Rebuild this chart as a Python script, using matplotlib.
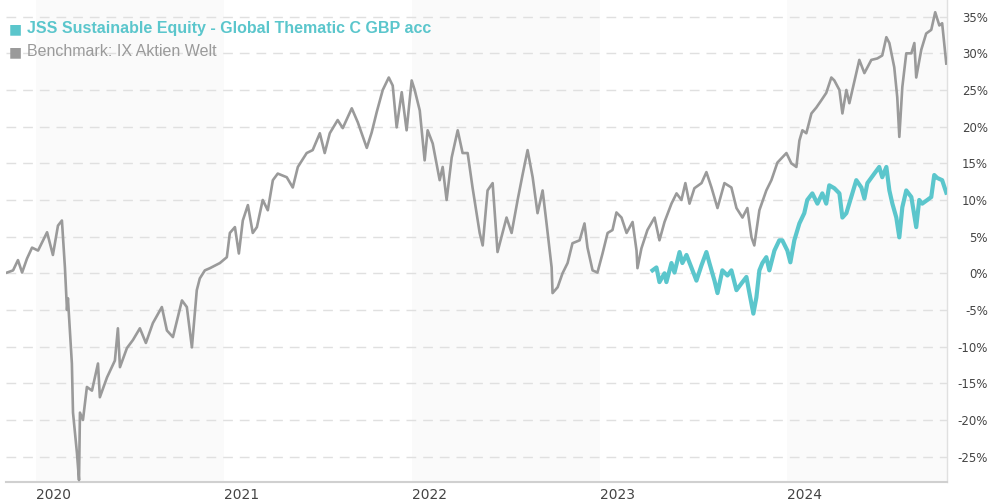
import matplotlib
matplotlib.use("Agg")
import matplotlib.pyplot as plt
from matplotlib.ticker import FixedLocator

# Benchmark: IX Aktien Welt (decimal year, % performance)
bench_t = [2019.846, 2019.878, 2019.904, 2019.926, 2019.952, 2019.979, 2020.011, 2020.059, 2020.090, 2020.117,
           2020.138, 2020.154, 2020.165, 2020.170, 2020.191, 2020.197, 2020.218, 2020.229, 2020.234, 2020.250,
           2020.271, 2020.298, 2020.330, 2020.340, 2020.378, 2020.420, 2020.436, 2020.447, 2020.484, 2020.516,
           2020.553, 2020.585, 2020.622, 2020.670, 2020.697, 2020.729, 2020.777, 2020.803, 2020.830, 2020.856,
           2020.872, 2020.899, 2020.926, 2020.979, 2021.016, 2021.032, 2021.059, 2021.080, 2021.101, 2021.128,
           2021.154, 2021.176, 2021.207, 2021.234, 2021.261, 2021.287, 2021.335, 2021.367, 2021.394, 2021.441,
           2021.473, 2021.511, 2021.537, 2021.564, 2021.606, 2021.633, 2021.681, 2021.713, 2021.761, 2021.787,
           2021.814, 2021.846, 2021.878, 2021.899, 2021.920, 2021.947, 2021.973, 2022.000, 2022.016, 2022.043,
           2022.069, 2022.085, 2022.112, 2022.149, 2022.165, 2022.186, 2022.213, 2022.245, 2022.271, 2022.298,
           2022.324, 2022.362, 2022.378, 2022.404, 2022.431, 2022.457, 2022.505, 2022.532, 2022.564, 2022.590,
           2022.617, 2022.644, 2022.670, 2022.697, 2022.718, 2022.745, 2022.750, 2022.777, 2022.803, 2022.830,
           2022.856, 2022.894, 2022.920, 2022.936, 2022.963, 2022.989, 2023.016, 2023.043, 2023.069, 2023.090,
           2023.117, 2023.144, 2023.176, 2023.197, 2023.202, 2023.223, 2023.255, 2023.293, 2023.319, 2023.346,
           2023.383, 2023.410, 2023.436, 2023.457, 2023.479, 2023.505, 2023.543, 2023.569, 2023.596, 2023.628,
           2023.665, 2023.702, 2023.729, 2023.761, 2023.787, 2023.809, 2023.824, 2023.851, 2023.888, 2023.915,
           2023.947, 2023.973, 2023.995, 2024.021, 2024.048, 2024.064, 2024.080, 2024.101, 2024.128, 2024.154,
           2024.181, 2024.207, 2024.234, 2024.250, 2024.277, 2024.293, 2024.314, 2024.330, 2024.367, 2024.383,
           2024.410, 2024.447, 2024.479, 2024.505, 2024.527, 2024.543, 2024.569, 2024.585, 2024.596, 2024.612,
           2024.633, 2024.660, 2024.676, 2024.686, 2024.713, 2024.739, 2024.766, 2024.787, 2024.809, 2024.824,
           2024.846]
bench_v = [0.1, 0.4, 1.8, 0.1, 2.0, 3.5, 3.1, 5.6, 2.5, 6.5,
           7.2, 0.8, -5.0, -3.4, -12.3, -19.0, -24.5, -28.2, -19.0, -20.0,
           -15.5, -16.0, -12.3, -16.9, -14.2, -11.9, -7.5, -12.8, -10.2, -9.1,
           -7.5, -9.5, -6.8, -4.6, -7.8, -8.7, -3.7, -4.6, -10.1, -2.3,
           -0.7, 0.4, 0.7, 1.4, 2.2, 5.5, 6.3, 2.7, 7.2, 9.3,
           5.5, 6.3, 10.0, 8.6, 12.7, 13.6, 13.1, 11.7, 14.5, 16.4,
           16.8, 19.1, 16.4, 19.1, 20.9, 19.8, 22.5, 20.6, 17.1, 19.2,
           22.0, 25.0, 26.7, 25.6, 19.9, 24.7, 19.5, 26.3, 25.0, 22.2,
           15.4, 19.5, 17.7, 12.7, 14.5, 10.0, 15.8, 19.5, 16.4, 16.4,
           11.7, 5.5, 3.8, 11.3, 12.3, 2.9, 7.6, 5.5, 10.0, 13.4,
           16.8, 13.1, 8.2, 11.3, 6.8, 0.8, -2.7, -1.9, 0.0, 1.4,
           4.1, 4.5, 6.8, 3.5, 0.4, 0.1, 2.7, 5.5, 5.9, 8.3,
           7.6, 5.5, 7.0, 3.1, 0.7, 3.4, 5.9, 7.6, 4.5, 7.0,
           9.5, 10.9, 10.0, 12.3, 9.5, 11.6, 12.3, 13.8, 11.7, 8.9,
           12.3, 11.7, 8.9, 7.6, 8.9, 4.9, 3.8, 8.6, 11.3, 12.7,
           15.1, 15.8, 16.4, 15.0, 14.5, 18.1, 19.5, 19.1, 21.8, 22.6,
           23.6, 24.6, 26.7, 26.3, 25.0, 21.8, 25.0, 23.2, 27.3, 29.1,
           27.3, 29.1, 29.3, 29.7, 32.2, 31.4, 28.1, 24.0, 18.6, 25.4,
           30.0, 30.0, 31.4, 26.7, 30.5, 32.7, 33.2, 35.6, 33.8, 34.1,
           28.6]

# JSS Sustainable Equity - Global Thematic C GBP acc
fund_t = [2023.282, 2023.303, 2023.319, 2023.346, 2023.356, 2023.383, 2023.399, 2023.426, 2023.441, 2023.463,
          2023.489, 2023.516, 2023.543, 2023.569, 2023.585, 2023.612, 2023.628, 2023.654, 2023.681, 2023.702,
          2023.729, 2023.755, 2023.782, 2023.798, 2023.819, 2023.835, 2023.851, 2023.867, 2023.888, 2023.904,
          2023.931, 2023.957, 2023.973, 2024.000, 2024.016, 2024.037, 2024.064, 2024.090, 2024.106, 2024.133,
          2024.160, 2024.186, 2024.207, 2024.223, 2024.250, 2024.277, 2024.293, 2024.314, 2024.340, 2024.367,
          2024.394, 2024.410, 2024.426, 2024.463, 2024.489, 2024.505, 2024.527, 2024.543, 2024.559, 2024.580,
          2024.596, 2024.612, 2024.633, 2024.660, 2024.686, 2024.702, 2024.718, 2024.745, 2024.766, 2024.782,
          2024.798, 2024.824, 2024.846]
fund_v = [0.4, 0.8, -1.2, 0.0, -1.2, 1.4, 0.1, 2.9, 1.4, 2.5,
          0.8, -1.0, 1.1, 2.9, 1.4, -1.0, -2.7, 0.4, -0.3, 0.4,
          -2.3, -1.4, -0.5, -2.7, -5.5, -3.3, 0.4, 1.4, 2.2, 0.4,
          3.1, 4.5, 4.5, 3.1, 1.5, 4.5, 6.8, 8.2, 10.0, 10.9,
          9.5, 10.9, 9.5, 12.0, 11.6, 10.9, 7.6, 8.2, 10.4, 12.7,
          11.7, 10.2, 12.3, 13.6, 14.5, 13.1, 14.5, 11.3, 9.5, 7.6,
          4.9, 9.0, 11.3, 10.4, 6.3, 10.0, 9.5, 10.0, 10.4, 13.4,
          13.0, 12.7, 11.0]

years = [2020, 2021, 2022, 2023, 2024]
y_ticks = [35, 30, 25, 20, 15, 10, 5, 0, -5, -10, -15, -20, -25]

fund_name = "JSS Sustainable Equity - Global Thematic C GBP acc"
bench_name = "Benchmark: IX Aktien Welt"

teal = "#5bc6cc"
grey = "#9a9a9a"

fig = plt.figure(figsize=(9.9, 5), dpi=100)
ax = fig.add_axes([0.006, 0.036, 0.9506, 0.964])

# alternating year bands
for y in years[::2]:
    ax.axvspan(y, y + 1, color="#fafafa", zorder=0, lw=0)

for v in y_ticks:
    ax.axhline(v, color="#e0e0e0", lw=1, dashes=(7, 5), zorder=1)

ax.plot(bench_t, bench_v, color=grey, lw=1.9, zorder=3, solid_joinstyle="round")
ax.plot(fund_t, fund_v, color=teal, lw=3.0, zorder=4, solid_joinstyle="round")

ax.set_xlim(2019.84, 2024.85)
ax.set_ylim(-28.46, 37.27)

ax.xaxis.set_major_locator(FixedLocator(years))
ax.set_xticklabels([str(y) for y in years], ha="left")
ax.yaxis.tick_right()
ax.yaxis.set_major_locator(FixedLocator(y_ticks))
ax.set_yticklabels([f"{v}%" for v in y_ticks], ha="right")
ax.tick_params(axis="x", length=0, pad=4, labelsize=10, labelcolor="#444444")
ax.tick_params(axis="y", length=0, pad=29.5, labelsize=8.5, labelcolor="#444444")

for s in ["top", "left"]:
    ax.spines[s].set_visible(False)
ax.spines["bottom"].set_color("#d0d0d0")
ax.spines["bottom"].set_linewidth(1.5)
ax.spines["right"].set_color("#e0e0e0")
ax.spines["right"].set_linewidth(1)

# legend
fig.text(0.009, 1 - 29 / 500, "\u25a0", color=teal, fontsize=10, va="center",
         family=["DejaVu Sans"])
fig.text(0.027, 1 - 29 / 500, fund_name, color=teal, fontsize=11.5, fontweight="bold",
         va="center", family=["Liberation Sans", "DejaVu Sans"])
fig.text(0.009, 1 - 52 / 500, "\u25a0", color=grey, fontsize=10, va="center",
         family=["DejaVu Sans"])
fig.text(0.027, 1 - 52 / 500, bench_name, color=grey, fontsize=11.5,
         va="center", family=["Liberation Sans", "DejaVu Sans"])

fig.savefig("out.png", dpi=100)
